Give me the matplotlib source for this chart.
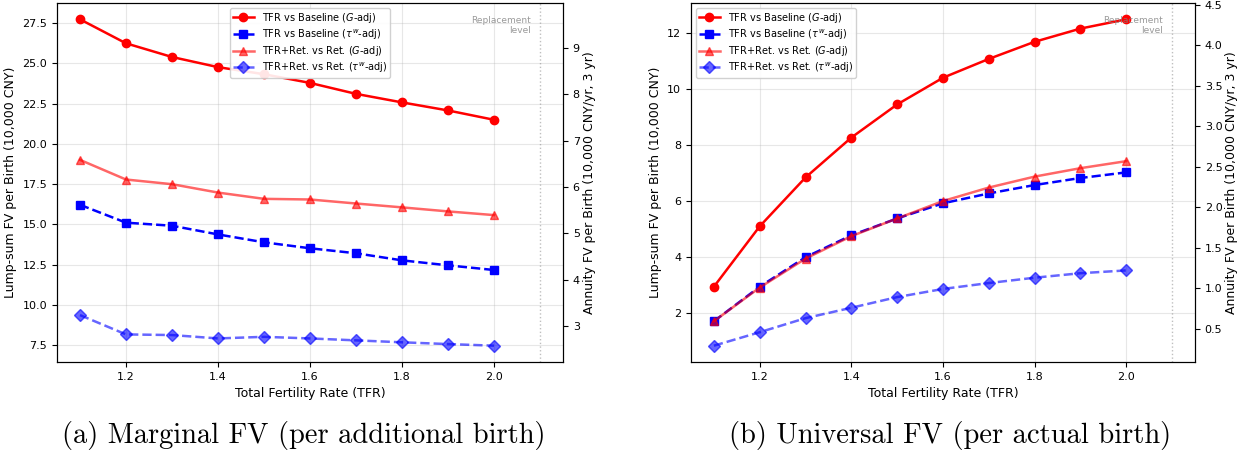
import matplotlib
matplotlib.use('Agg')
import matplotlib.pyplot as plt

tfr = [1.1, 1.2, 1.3, 1.4, 1.5, 1.6, 1.7, 1.8, 1.9, 2.0]

# (a) marginal FV per additional birth, lump-sum (10,000 CNY)
marg_base_g = [27.73, 26.24, 25.39, 24.76, 24.32, 23.78, 23.10, 22.57, 22.07, 21.49]
marg_base_tau = [16.21, 15.10, 14.91, 14.37, 13.88, 13.51, 13.20, 12.76, 12.45, 12.16]
marg_ret_g = [19.00, 17.78, 17.49, 16.97, 16.58, 16.54, 16.29, 16.05, 15.80, 15.57]
marg_ret_tau = [9.36, 8.16, 8.12, 7.91, 8.01, 7.91, 7.79, 7.67, 7.56, 7.46]

# (b) universal FV per actual birth
univ_base_g = [2.95, 5.10, 6.84, 8.26, 9.44, 10.39, 11.06, 11.67, 12.14, 12.47]
univ_base_tau = [1.72, 2.95, 4.00, 4.78, 5.38, 5.92, 6.27, 6.57, 6.82, 7.02]
univ_ret_g = [1.72, 2.92, 3.95, 4.75, 5.38, 6.00, 6.48, 6.87, 7.17, 7.42]
univ_ret_tau = [0.85, 1.33, 1.83, 2.20, 2.58, 2.87, 3.08, 3.27, 3.43, 3.53]

series_labels = ['TFR vs Baseline ($G$-adj)', r'TFR vs Baseline ($\tau^w$-adj)',
                 'TFR+Ret. vs Ret. ($G$-adj)', r'TFR+Ret. vs Ret. ($\tau^w$-adj)']
captions = ['(a) Marginal FV (per additional birth)', '(b) Universal FV (per actual birth)']

annuity_factor = 2.886  # 3-year annuity factor
replacement = 2.1


def draw_panel(ax, data, legend_loc, pad2):
    styles = [dict(color='red', ls='-', marker='o', alpha=1.0),
              dict(color='blue', ls='--', marker='s', alpha=1.0),
              dict(color='red', ls='-', marker='^', alpha=0.6),
              dict(color='blue', ls='--', marker='D', alpha=0.6)]
    for vals, lab, st in zip(data, series_labels, styles):
        ax.plot(tfr, vals, label=lab, linewidth=1.8, markersize=6, **st)
    ax.axvline(replacement, color='gray', ls=':', lw=1, alpha=0.5)
    ax.text(2.08, 0.965, 'Replacement\nlevel', transform=ax.get_xaxis_transform(),
            ha='right', va='top', fontsize=6.5, color='gray', alpha=0.8)
    ax.set_xlim(1.05, 2.15)
    ax.set_xticks([1.2, 1.4, 1.6, 1.8, 2.0])
    ax.grid(True, alpha=0.3)
    ax.tick_params(labelsize=8)
    ax.set_xlabel('Total Fertility Rate (TFR)', fontsize=9)
    ax.set_ylabel('Lump-sum FV per Birth (10,000 CNY)', fontsize=9)
    ax.legend(loc=legend_loc, fontsize=7, framealpha=0.9, labelspacing=0.25,
              borderpad=0.3, handlelength=2.2)
    ax2 = ax.twinx()
    lo, hi = ax.get_ylim()
    ax2.set_ylim(lo / annuity_factor, hi / annuity_factor)
    ax2.tick_params(labelsize=8)
    ax2.set_ylabel('Annuity FV per Birth (10,000 CNY/yr, 3 yr)', fontsize=9,
                   labelpad=pad2)


fig = plt.figure(figsize=(12.39, 4.5), dpi=100)
ax_a = fig.add_axes([57 / 1239, 1 - 362 / 450, 506 / 1239, 359 / 450])
ax_b = fig.add_axes([691 / 1239, 1 - 362 / 450, 504 / 1239, 359 / 450])

draw_panel(ax_a, [marg_base_g, marg_base_tau, marg_ret_g, marg_ret_tau], 'upper center', 2)
draw_panel(ax_b, [univ_base_g, univ_base_tau, univ_ret_g, univ_ret_tau], 'upper left', 1.5)

fig.text(304 / 1239, 1 - 435 / 450, captions[0], ha='center', va='center',
         fontsize=20.5, family='cmr10')
fig.text(950 / 1239, 1 - 435 / 450, captions[1], ha='center', va='center',
         fontsize=20.5, family='cmr10')

fig.savefig('out.png', dpi=100)
